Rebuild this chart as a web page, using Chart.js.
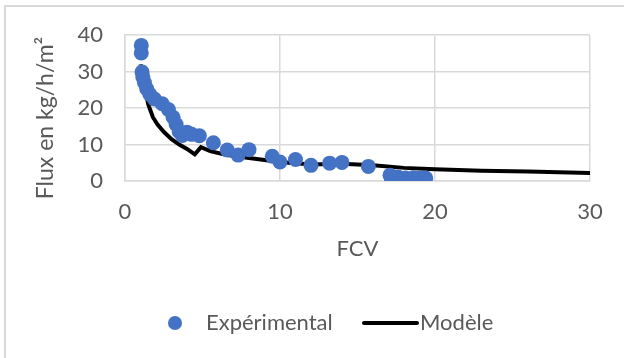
<!DOCTYPE html>
<html><head><meta charset="utf-8">
<script src="https://cdn.jsdelivr.net/npm/chart.js@4.4.1/dist/chart.umd.min.js"></script>
<style>html,body{margin:0;padding:0;background:#fff}#wrap{width:624px;height:358px;position:relative}</style>
</head><body><div id="wrap"><canvas id="c" width="624" height="358"></canvas></div>
<script>
// Experimental data (FCV, flux)
const expX = [1.05,1.05,1.1,1.15,1.25,1.4,1.6,1.9,2.4,2.8,3.1,3.3,3.5,3.7,4.0,4.3,4.8,5.7,6.6,7.3,8.0,9.5,10.0,11.0,12.0,13.2,14.0,15.7,17.1,17.2,17.6,18.1,18.6,19.0,19.4];
const expY = [37.2,35.1,29.9,28.5,27.0,25.3,23.8,22.5,21.2,19.6,17.5,15.5,13.5,12.5,13.4,12.8,12.4,10.5,8.5,7.1,8.6,6.8,5.2,5.9,4.3,4.9,5.1,4.0,1.6,0.4,1.1,0.8,0.9,0.8,0.8];
// Model curve
const modelX = [1.0,1.2,1.5,1.8,2.1,2.5,3.0,3.5,4.0,4.5,4.9,5.5,6.5,8.0,10.0,12.0,14.0,16.0,18.0,20.0,23.0,26.0,30.0];
const modelY = [32.0,27.0,21.0,17.5,15.5,13.5,11.5,10.0,8.8,7.3,9.3,8.2,7.2,6.3,5.2,4.5,4.7,4.3,3.6,3.2,2.8,2.6,2.2];
const xTicks = [0,10,20,30];
const yTicks = [0,10,20,30,40];
const seriesNames = ['Expérimental','Modèle'];
const xTitle = 'FCV';
const yTitle = 'Flux en kg/h/m²';

const FONT = 'Lato';
const TXT = '#595959';
const GRID = '#d9d9d9';

const toPts = (xs, ys) => xs.map((x, i) => ({x, y: ys[i]}));

const decor = {
  id: 'decor',
  beforeDraw(chart) {
    const ctx = chart.ctx;
    ctx.save();
    ctx.fillStyle = '#fff';
    ctx.fillRect(0, 0, chart.width, chart.height);
    ctx.strokeStyle = GRID;
    ctx.lineWidth = 2;
    ctx.beginPath();
    ctx.moveTo(5, chart.height + 5);
    ctx.lineTo(5, 6);
    ctx.lineTo(chart.width + 5, 6);
    ctx.stroke();
    ctx.restore();
  },
  afterDraw(chart) {
    const ctx = chart.ctx;
    const ds = chart.data.datasets;
    const y = 323;
    ctx.save();
    // y axis title
    ctx.save();
    ctx.translate(46, 118);
    ctx.rotate(-Math.PI / 2);
    ctx.font = '23px ' + FONT;
    ctx.fillStyle = TXT;
    ctx.textAlign = 'center';
    ctx.textBaseline = 'middle';
    ctx.fillText(yTitle, 0, 0);
    ctx.restore();
    // legend
    ctx.font = '22px ' + FONT;
    ctx.fillStyle = TXT;
    ctx.textBaseline = 'middle';
    ctx.beginPath();
    ctx.arc(175, y, 7, 0, Math.PI * 2);
    ctx.fillStyle = ds[0].backgroundColor;
    ctx.fill();
    ctx.fillStyle = TXT;
    ctx.fillText(ds[0].label, 206, y);
    ctx.strokeStyle = ds[1].borderColor;
    ctx.lineWidth = 4;
    ctx.lineCap = 'round';
    ctx.beginPath();
    ctx.moveTo(364, y);
    ctx.lineTo(417, y);
    ctx.stroke();
    ctx.fillText(ds[1].label, 420, y);
    ctx.restore();
  }
};

new Chart(document.getElementById('c'), {
  type: 'scatter',
  data: {
    datasets: [
      {
        label: seriesNames[0],
        data: toPts(expX, expY),
        backgroundColor: '#4472C4',
        borderColor: '#4472C4',
        pointRadius: 7.5,
        pointHoverRadius: 7.5,
        borderWidth: 0,
        showLine: false
      },
      {
        label: seriesNames[1],
        data: toPts(modelX, modelY),
        borderColor: '#000000',
        backgroundColor: '#000000',
        borderWidth: 4,
        pointRadius: 0,
        showLine: true,
        tension: 0
      }
    ]
  },
  options: {
    responsive: false,
    animation: false,
    devicePixelRatio: 1,
    layout: { padding: { left: 0, right: 34, top: 35, bottom: 92 } },
    plugins: { legend: { display: false }, tooltip: { enabled: false } },
    scales: {
      x: {
        type: 'linear', min: 0, max: 30,
        afterBuildTicks: s => { s.ticks = xTicks.map(v => ({value: v})); },
        afterFit: s => { s.height = 85; },
        grid: { color: GRID, lineWidth: 1.5, drawTicks: false },
        border: { color: GRID, width: 1.5 },
        ticks: { color: TXT, font: { family: FONT, size: 22 }, padding: 18, maxRotation: 0 },
        title: { display: true, text: xTitle, color: TXT, font: { family: FONT, size: 22 }, padding: { top: 0, bottom: 4 } }
      },
      y: {
        type: 'linear', min: 0, max: 40,
        afterBuildTicks: s => { s.ticks = yTicks.map(v => ({value: v})); },
        afterFit: s => { s.width = 125; },
        grid: { color: GRID, lineWidth: 1.5, drawTicks: false },
        border: { color: GRID, width: 1.5 },
        ticks: { color: TXT, font: { family: FONT, size: 22 }, padding: 22 },
        title: { display: false, text: yTitle }
      }
    }
  },
  plugins: [decor]
});
</script>
</body></html>
